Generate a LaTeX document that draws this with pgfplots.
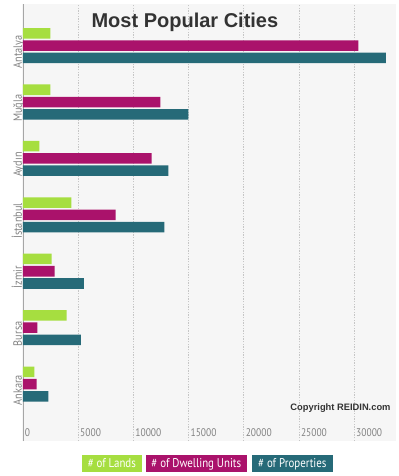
\documentclass[border=0pt]{standalone}
\usepackage{pgfplots}
\pgfplotsset{compat=1.18}
\usepackage{fontspec}
\setmainfont{Liberation Sans}
\newfontfamily\narrow[FakeStretch=0.86]{PT Sans}
\definecolor{cland}{RGB}{166,222,64}
\definecolor{cdwell}{RGB}{170,18,107}
\definecolor{cprop}{RGB}{38,106,120}
\definecolor{ctick}{RGB}{130,130,130}
\definecolor{ctitle}{RGB}{51,51,51}
\begin{document}
\begin{tikzpicture}
\path[use as bounding box] (0,0) rectangle (299.25pt,-357pt);
\begin{axis}[
  at={(16.5pt,-3pt)}, anchor=north west,
  scale only axis, width=280.5pt, height=327.75pt,
  xmin=-90, xmax=33786, ymin=-1.01, ymax=6.738,
  xbar, bar width=7.9pt,
  axis line style={draw=none},
  axis background/.style={fill={rgb,255:red,246;green,246;blue,246}},
  major tick length=0pt,
  xtick={0,5000,...,30000},
  scaled x ticks=false,
  /pgf/number format/.cd, set thousands separator={}, assume math mode=true, /pgfplots/.cd,
  xticklabel style={anchor=base west, font=\narrow\fontsize{8.3}{10}\selectfont, text=ctick, xshift=1.3pt, yshift=3.2pt, inner sep=0pt},
  ytick={0,1,2,3,4,5,6},
  yticklabels={Ankara,Bursa,İzmir,İstanbul,Aydın,Muğla,Antalya},
  yticklabel style={rotate=90, anchor=base, font=\narrow\fontsize{9}{10}\selectfont, text=ctick, inner sep=0pt, xshift=-4.6pt},
  xmajorgrids,
  major grid style={dash pattern=on 1pt off 1pt, draw=gray!45, line width=0.6pt},
  extra x ticks={0}, extra x tick labels={},
  extra x tick style={xmajorgrids, major grid style={solid, draw=gray!70, line width=0.6pt}},
]
\addplot[fill=cland, draw=none, bar shift=9.2pt] coordinates {(1027,0) (3955,1) (2595,2) (4380,3) (1480,4) (2470,5) (2470,6)};
\addplot[fill=cdwell, draw=none, bar shift=0pt] coordinates {(1237,0) (1300,1) (2868,2) (8394,3) (11655,4) (12437,5) (30370,6)};
\addplot[fill=cprop, draw=none, bar shift=-9.2pt] coordinates {(2295,0) (5254,1) (5525,2) (12800,3) (13165,4) (14975,5) (32880,6)};
\end{axis}
\node[anchor=base, font=\bfseries\fontsize{15}{18}\selectfont, text=ctitle] at (184.9*0.75pt,-27.3*0.75pt) {Most Popular Cities};
\node[anchor=base, font=\bfseries\fontsize{7}{8}\selectfont, text=ctitle] at (340.5*0.75pt,-410*0.75pt) {Copyright REIDIN.com};
\begin{scope}[every node/.style={text=white, inner sep=0pt, minimum height=13pt, font=\narrow\fontsize{9.5}{11}\selectfont, text height=0.72em, text depth=0.15em}]
\node[fill=cland, minimum width=44.8pt] at (111.85*0.75pt,-463.3*0.75pt) {\# of Lands};
\node[fill=cdwell, minimum width=75.5pt] at (196.35*0.75pt,-463.3*0.75pt) {\# of Dwelling Units};
\node[fill=cprop, minimum width=60.5pt] at (292.35*0.75pt,-463.3*0.75pt) {\# of Properties};
\end{scope}
\end{tikzpicture}
\end{document}
